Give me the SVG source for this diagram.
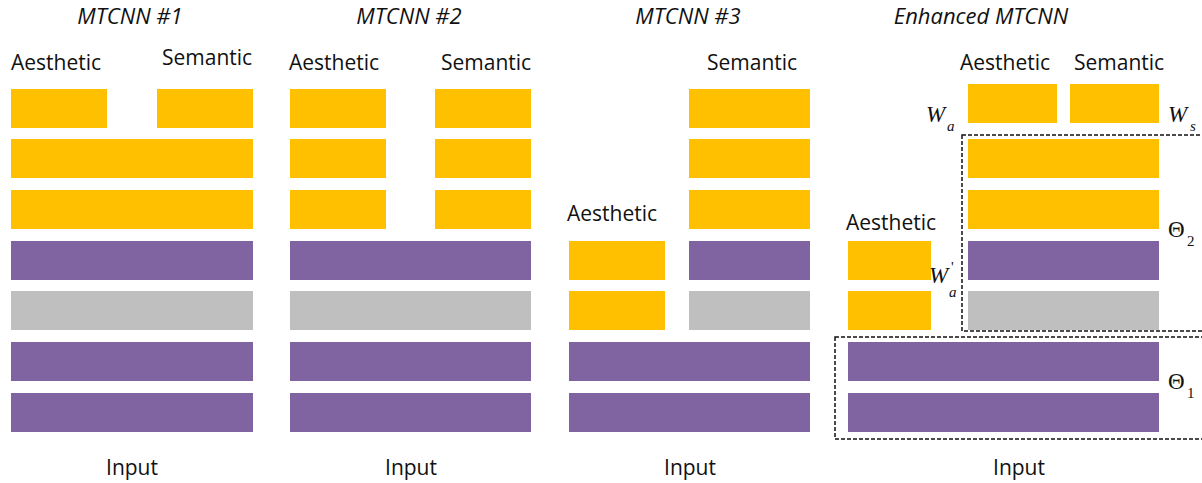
<svg xmlns="http://www.w3.org/2000/svg" width="1202" height="483" viewBox="0 0 1202 483">
  <style>
    .y { fill: #FFC000; }
    .p { fill: #8064A2; }
    .g { fill: #BFBFBF; }
    .lbl { font-family: "Open Sans", "Liberation Sans", sans-serif; font-size: 21px; fill: #111; }
    .ttl { font-family: "Open Sans", "Liberation Sans", sans-serif; font-size: 22px; font-style: italic; fill: #111; text-anchor: middle; }
    .mid { text-anchor: middle; }
    .math { font-family: "Liberation Serif", "DejaVu Serif", serif; font-size: 23px; fill: #111; }
    .sub { font-family: "Liberation Serif", "DejaVu Serif", serif; font-size: 15px; fill: #111; }
    .it { font-style: italic; }
    .dash { fill: none; stroke: #111; stroke-width: 1.5; stroke-dasharray: 4 2; }
  </style>

  <!-- MTCNN #1 -->
  <g id="mtcnn1">
    <text class="ttl" x="130" y="24">MTCNN #1</text>
    <text class="lbl" x="11" y="70">Aesthetic</text>
    <text class="lbl" x="162" y="65">Semantic</text>
    <rect class="y" x="11" y="89" width="96" height="39"/>
    <rect class="y" x="157" y="89" width="96" height="39"/>
    <rect class="y" x="11" y="139" width="242" height="39"/>
    <rect class="y" x="11" y="190" width="242" height="39"/>
    <rect class="p" x="11" y="241" width="242" height="39"/>
    <rect class="g" x="11" y="291" width="242" height="39"/>
    <rect class="p" x="11" y="342" width="242" height="39"/>
    <rect class="p" x="11" y="393" width="242" height="39"/>
    <text class="lbl mid" x="132" y="475">Input</text>
  </g>

  <!-- MTCNN #2 -->
  <g id="mtcnn2">
    <text class="ttl" x="409" y="24">MTCNN #2</text>
    <text class="lbl" x="289" y="70">Aesthetic</text>
    <text class="lbl" x="441" y="70">Semantic</text>
    <rect class="y" x="290" y="89" width="96" height="39"/>
    <rect class="y" x="435" y="89" width="96" height="39"/>
    <rect class="y" x="290" y="139" width="96" height="39"/>
    <rect class="y" x="435" y="139" width="96" height="39"/>
    <rect class="y" x="290" y="190" width="96" height="39"/>
    <rect class="y" x="435" y="190" width="96" height="39"/>
    <rect class="p" x="290" y="241" width="241" height="39"/>
    <rect class="g" x="290" y="291" width="241" height="39"/>
    <rect class="p" x="290" y="342" width="241" height="39"/>
    <rect class="p" x="290" y="393" width="241" height="39"/>
    <text class="lbl mid" x="411" y="475">Input</text>
  </g>

  <!-- MTCNN #3 -->
  <g id="mtcnn3">
    <text class="ttl" x="688" y="24">MTCNN #3</text>
    <text class="lbl" x="707" y="70">Semantic</text>
    <text class="lbl" x="567" y="221">Aesthetic</text>
    <rect class="y" x="689" y="89" width="121" height="39"/>
    <rect class="y" x="689" y="139" width="121" height="39"/>
    <rect class="y" x="689" y="190" width="121" height="39"/>
    <rect class="y" x="569" y="241" width="96" height="39"/>
    <rect class="p" x="689" y="241" width="121" height="39"/>
    <rect class="y" x="569" y="291" width="96" height="39"/>
    <rect class="g" x="689" y="291" width="121" height="39"/>
    <rect class="p" x="569" y="342" width="241" height="39"/>
    <rect class="p" x="569" y="393" width="241" height="39"/>
    <text class="lbl mid" x="690" y="475">Input</text>
  </g>

  <!-- Enhanced MTCNN -->
  <g id="enhanced">
    <text class="ttl" x="981" y="24">Enhanced MTCNN</text>
    <text class="lbl" x="960" y="70">Aesthetic</text>
    <text class="lbl" x="1074" y="70">Semantic</text>
    <text class="lbl" x="846" y="230">Aesthetic</text>
    <rect class="y" x="968" y="84" width="89" height="39"/>
    <rect class="y" x="1070" y="84" width="89" height="39"/>
    <rect class="y" x="968" y="139" width="191" height="39"/>
    <rect class="y" x="968" y="190" width="191" height="39"/>
    <rect class="p" x="968" y="241" width="191" height="39"/>
    <rect class="g" x="968" y="291" width="191" height="39"/>
    <rect class="y" x="848" y="241" width="83" height="39"/>
    <rect class="y" x="848" y="291" width="83" height="39"/>
    <rect class="p" x="848" y="342" width="311" height="39"/>
    <rect class="p" x="848" y="393" width="311" height="39"/>
    <!-- parameter groups -->
    <rect class="dash" x="962" y="135" width="244" height="196"/>
    <rect class="dash" x="835" y="337" width="371" height="102"/>
    <!-- weight and parameter symbols -->
    <text class="math it" x="926" y="122">W</text>
    <text class="sub it" x="947" y="131">a</text>
    <text class="math it" x="1168" y="122">W</text>
    <text class="sub it" x="1190" y="131">s</text>
    <text class="math it" x="929" y="283">W</text>
    <text class="sub it" x="949" y="297">a</text>
    <text class="sub" x="951" y="272">'</text>
    <text class="math" x="1168" y="237">Θ</text>
    <text class="sub" x="1187" y="246">2</text>
    <text class="math" x="1168" y="389">Θ</text>
    <text class="sub" x="1187" y="398">1</text>
    <text class="lbl mid" x="1019" y="475">Input</text>
  </g>
</svg>
